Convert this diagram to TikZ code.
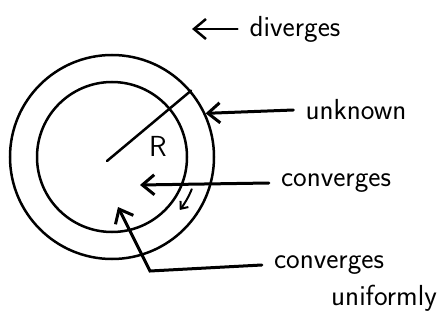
\documentclass[tikz,border=0pt]{standalone}
\usepackage{tikz}
\usetikzlibrary{positioning,arrows.meta,calc}

\begin{document}
\begin{tikzpicture}[x=1pt,y=1pt,>={Straight Barb[length=12pt,width=20pt]},line cap=round,
  lbl/.style={font=\sffamily\fontsize{29}{32}\selectfont,inner sep=12pt},
  ring/.style={draw,circle,line width=2.5pt,inner sep=0pt}]
\useasboundingbox (0,0) rectangle (441,327);
\coordinate (O) at (112,170);
\node[ring,minimum size=150pt] (inner) at (O) {};
\node[ring,minimum size=204pt] (outer) at (O) {};
\draw[line width=2.5pt] (107,166) -- (outer.40);
\node[font=\sffamily\fontsize{29}{32}\selectfont] (R) at (158,181) {R};

\node[lbl] (div) at (295,298) {diverges};
\coordinate (divtip) at (192,298);
\draw[->,line width=2.5pt] (div.west) -- (divtip);

\node[lbl] (unk) at (356,217) {unknown};
\draw[->,line width=3pt] (unk.west) -- (outer.25);

\node[lbl] (conv) at (336,144) {converges};
\coordinate (convtip) at (140,142);
\draw[->,line width=3pt] (conv.west) -- (convtip);

\node[lbl] (cu) at (329,62) {converges};
\node[lbl] (unif) at ($(cu)+(55,-33)$) {uniformly};
\coordinate (bend) at (150,56);
\coordinate (cutip) at (118,120);
\draw[->,line width=3pt] (cu.west) -- (bend) -- (cutip);

\draw[-{Straight Barb[length=6pt,width=10pt]},line width=2pt]
  ($(O)+(-22:86pt)$) arc[start angle=-22,end angle=-38,radius=86pt];
\end{tikzpicture}
\end{document}
